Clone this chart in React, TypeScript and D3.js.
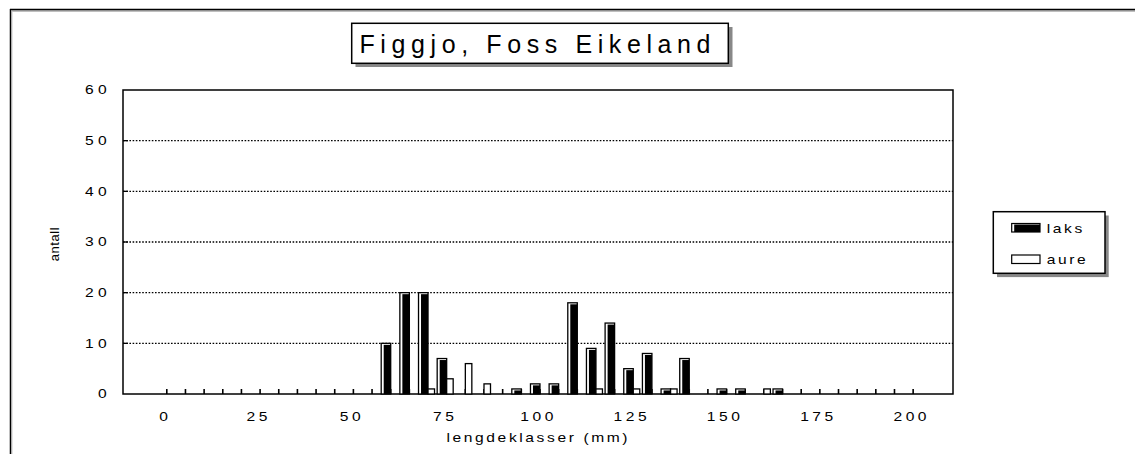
import React from "react";
import * as d3 from "d3";

const categories: number[] = d3.range(0, 205, 5);
const laks: number[] = [
  0, 0, 0, 0, 0, 0, 0, 0, 0, 0, 0, 0,
  10, 20, 20, 7, 0, 0, 0, 1, 2, 2, 18, 9, 14, 5, 8, 1, 7, 0, 1, 1, 0, 1,
  0, 0, 0, 0, 0, 0, 0,
];
const aure: number[] = [
  0, 0, 0, 0, 0, 0, 0, 0, 0, 0, 0, 0,
  0, 0, 1, 3, 6, 2, 0, 0, 0, 0, 0, 1, 0, 1, 0, 1, 0, 0, 0, 0, 1, 0,
  0, 0, 0, 0, 0, 0, 0,
];
const yTicks: number[] = [0, 10, 20, 30, 40, 50, 60];
const xLabels: number[] = [0, 25, 50, 75, 100, 125, 150, 175, 200];
const seriesNames: string[] = ["laks", "aure"];
const title = "Figgjo, Foss Eikeland";
const xTitle = "lengdeklasser (mm)";
const yTitle = "antall";

const W = 1135;
const H = 454;
const plot = { left: 123, right: 953, top: 90, bottom: 394 };
const FONT = "'Liberation Sans', Arial, sans-serif";

type STProps = {
  x: number;
  y: number;
  anchor: "start" | "middle" | "end";
  size: number;
  ls: number;
  sx: number;
  children: React.ReactNode;
};

function SText({ x, y, anchor, size, ls, sx, children }: STProps) {
  const shift = anchor === "middle" ? ls / 2 : anchor === "end" ? ls : 0;
  return (
    <text
      transform={`translate(${x},${y}) scale(${sx},1)`}
      x={shift}
      y={0}
      textAnchor={anchor}
      fontSize={size}
      letterSpacing={ls}
      fill="#000"
    >
      {children}
    </text>
  );
}

export default function App() {
  const x = d3
    .scaleBand<number>()
    .domain(categories)
    .range([156.3, 921.3])
    .paddingInner(0)
    .paddingOuter(0);
  const y = d3.scaleLinear().domain([0, 60]).range([plot.bottom, plot.top]);
  const base = y(0);
  const lw = 9.5;
  const aw = 6.5;
  const sx = 1.3;

  return (
    <svg
      width={W}
      height={H}
      style={{ position: "absolute", left: 0, top: 0, background: "#fff" }}
      fontFamily={FONT}
    >
      {/* outer chart frame */}
      <line x1={12} x2={W} y1={11} y2={11} stroke="#aaa" strokeWidth={1.5} />
      <line x1={12} x2={12} y1={11} y2={H} stroke="#ccc" strokeWidth={1} />
      <line x1={10} x2={W} y1={9.5} y2={9.5} stroke="#000" strokeWidth={1.5} />
      <line x1={10.5} x2={10.5} y1={9} y2={H} stroke="#000" strokeWidth={1.5} />

      {/* title */}
      <rect x={355.5} y={27} width={377} height={40} fill="#888" />
      <rect x={351.7} y={23.3} width={376.6} height={40} fill="#fff" stroke="#000" strokeWidth={1.5} />
      <text x={535 + 2.8} y={53} textAnchor="middle" fontSize={25} letterSpacing={5.6} fill="#000">
        {title}
      </text>

      {/* gridlines */}
      {yTicks
        .filter((t) => t > 0 && t < 60)
        .map((t) => (
          <g key={"g" + t}>
            <line
              x1={plot.left}
              x2={plot.right}
              y1={y(t)}
              y2={y(t)}
              stroke="#000"
              strokeWidth={1.3}
              strokeDasharray="1.6,1.6"
            />
            <line x1={plot.left} x2={plot.left + 5} y1={y(t)} y2={y(t)} stroke="#000" strokeWidth={1.3} />
          </g>
        ))}

      {/* plot frame */}
      <rect
        x={plot.left}
        y={plot.top}
        width={plot.right - plot.left}
        height={plot.bottom - plot.top}
        fill="none"
        stroke="#000"
        strokeWidth={1.5}
      />

      {/* bars */}
      {categories.map((c, i) => {
        const s = x(c) as number;
        const lv = laks[i];
        const av = aure[i];
        const lx = s + 1;
        const ax = s + 1 + lw;
        return (
          <g key={"c" + c}>
            <line x1={ax} x2={ax} y1={base - 5} y2={base} stroke="#000" strokeWidth={1.6} />
            <rect
              x={lx}
              y={y(lv)}
              width={lw}
              height={base - y(lv)}
              fill="#fff"
              stroke="#000"
              strokeWidth={lv === 0 ? 2 : 1.3}
            />
            {lv > 0 && (
              <rect
                x={lx + 2.5}
                y={y(lv) + 1.5}
                width={lw - 2.5}
                height={Math.max(0, base - y(lv) - 1.5)}
                fill="#000"
              />
            )}
            <rect
              x={ax}
              y={y(av)}
              width={aw}
              height={base - y(av)}
              fill="#fff"
              stroke="#000"
              strokeWidth={av === 0 ? 2 : 1.3}
            />
          </g>
        );
      })}

      {/* y tick labels */}
      {yTicks.map((t) => (
        <SText key={"yt" + t} x={106.7} y={y(t) + 4.3} anchor="end" size={12} ls={3.3} sx={sx}>
          {t}
        </SText>
      ))}

      {/* x tick labels */}
      {xLabels.map((t) => (
        <SText
          key={"xt" + t}
          x={(x(t) as number) + x.bandwidth() / 2 - 2}
          y={421.3}
          anchor="middle"
          size={12}
          ls={2.7}
          sx={sx}
        >
          {t}
        </SText>
      ))}

      {/* axis titles */}
      <SText x={537} y={441.8} anchor="middle" size={12} ls={2} sx={sx}>
        {xTitle}
      </SText>
      <text
        transform={`translate(59, 244) rotate(-90)`}
        textAnchor="middle"
        fontSize={13}
        letterSpacing={0.6}
        fill="#000"
      >
        {yTitle}
      </text>

      {/* legend */}
      <rect x={997} y={215.5} width={111.7} height={61.6} fill="#888" />
      <rect x={993.3} y={211.7} width={111.7} height={61.6} fill="#fff" stroke="#000" strokeWidth={1.5} />
      {seriesNames.map((n, i) => {
        const sy = i === 0 ? 223.5 : 255;
        return (
          <g key={n}>
            <rect x={1011.7} y={sy} width={28.3} height={8.5} fill="#fff" stroke="#000" strokeWidth={1.2} />
            {i === 0 && <rect x={1014.2} y={sy + 1} width={25.8} height={7.5} fill="#000" />}
            <SText x={1046.7} y={sy + 9} anchor="start" size={12} ls={2} sx={sx}>
              {n}
            </SText>
          </g>
        );
      })}
    </svg>
  );
}
